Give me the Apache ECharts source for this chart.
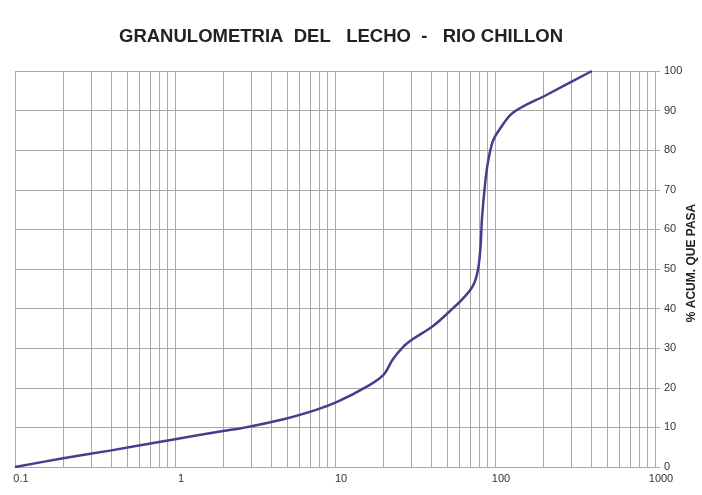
<!DOCTYPE html>
<html>
<head>
<meta charset="utf-8">
<script src="https://cdn.jsdelivr.net/npm/echarts@6/dist/echarts.min.js"></script>
<style>
html,body{margin:0;padding:0;background:#fff;overflow:hidden;}
#chart{width:702px;height:495px;}
</style>
</head>
<body>
<div id="chart"></div>
<script>
// Data
var sizesMm = [0.1, 0.2, 0.4, 1.0, 2.0, 2.6, 4.7, 7.7, 10.4, 15.8, 20, 23, 26.6, 30.7, 41, 52.4, 63, 72.9, 78, 81, 83, 86.6, 90.4, 97, 107, 130, 211, 404];
var percentPassing = [0, 2.2, 4.2, 7.0, 9.1, 9.8, 12, 14.5, 16.5, 20.3, 23.2, 27.2, 30.3, 32.3, 35.6, 39.4, 42.5, 45.8, 49.5, 55, 63, 71.3, 77, 82.3, 85.3, 89.5, 94, 100];
var xDecades = [0.1, 1, 10, 100];
var minorMultiples = [2, 3, 4, 5, 6, 7, 8, 9];
var titleText = 'GRANULOMETRIA  DEL   LECHO  -   RIO CHILLON';
var yName = '% ACUM. QUE PASA';

var points = sizesMm.map(function (d, i) { return [d, percentPassing[i]]; });
var minorLines = [];
xDecades.forEach(function (dec) {
  minorMultiples.forEach(function (m) {
    minorLines.push({ xAxis: +(dec * m).toPrecision(6) });
  });
});

var gridColor = '#a8a8a8';
var font = 'Liberation Sans, Arial, sans-serif';
var chart = echarts.init(document.getElementById('chart'), null, { renderer: 'canvas' });
chart.setOption({
  animation: false,
  backgroundColor: '#ffffff',
  title: {
    text: titleText,
    left: 336,
    textAlign: 'center',
    top: 22,
    textStyle: { fontFamily: font, fontWeight: 'bold', fontSize: 18.5, color: '#222' }
  },
  grid: { left: 15, right: 47, top: 71, bottom: 28, containLabel: false, outerBoundsMode: 'none' },
  xAxis: {
    type: 'log',
    logBase: 10,
    min: 0.1,
    max: 1000,
    axisLine: { show: true, lineStyle: { color: gridColor, width: 1 } },
    axisTick: { show: false },
    axisLabel: {
      margin: 6,
      fontFamily: font,
      fontSize: 11,
      color: '#333',
      padding: [0, 0, 0, 12],
      formatter: function (v) { return String(+v.toPrecision(6)); }
    },
    splitLine: { show: true, lineStyle: { color: gridColor, width: 1 } }
  },
  yAxis: {
    type: 'value',
    position: 'right',
    min: 0,
    max: 100,
    interval: 10,
    name: yName,
    nameLocation: 'middle',
    nameRotate: 90,
    nameGap: 31,
    nameMoveOverlap: false,
    nameTextStyle: { fontFamily: font, fontWeight: 'bold', fontSize: 12, color: '#222', padding: [0, 0, 0, 12] },
    axisLine: { show: true, lineStyle: { color: gridColor, width: 1 } },
    axisTick: { show: true, inside: false, length: 5, lineStyle: { color: gridColor } },
    axisLabel: { margin: 9, fontFamily: font, fontSize: 11, color: '#333' },
    splitLine: { show: true, lineStyle: { color: gridColor, width: 1 } }
  },
  series: [{
    type: 'line',
    data: points,
    smooth: 0.35,
    showSymbol: false,
    symbol: 'none',
    z: 5,
    lineStyle: { color: '#4a3c8c', width: 2.5 },
    markLine: {
      silent: true,
      symbol: 'none',
      animation: false,
      label: { show: false },
      lineStyle: { color: gridColor, width: 1, type: 'solid' },
      emphasis: { disabled: true },
      data: minorLines
    }
  }]
});
</script>
</body>
</html>
